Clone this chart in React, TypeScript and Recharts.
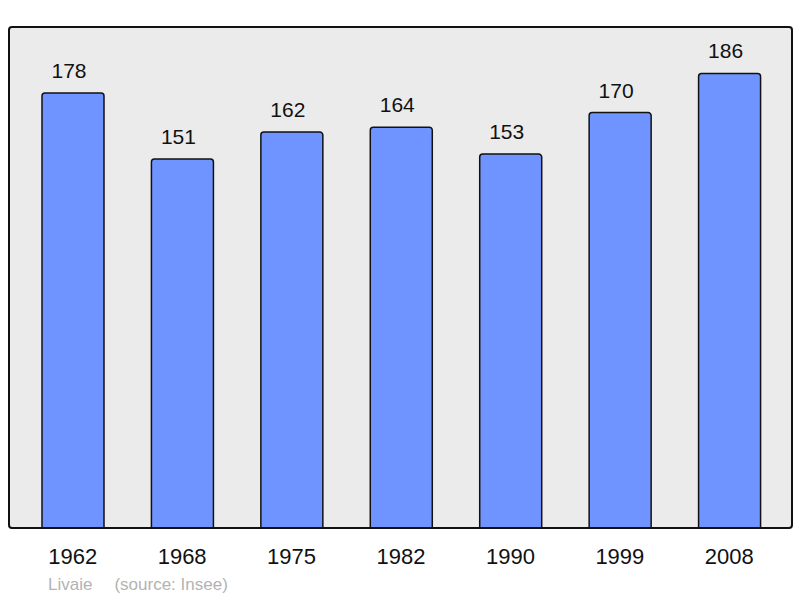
import { Bar, BarChart, LabelList, XAxis, YAxis } from "recharts"

const years = ["1962", "1968", "1975", "1982", "1990", "1999", "2008"]
const population = [178, 151, 162, 164, 153, 170, 186]

const data = years.map((year, i) => ({ year, population: population[i] }))

const font = "'Liberation Sans', Arial, sans-serif"

export default function App() {
  return (
    <div style={{ position: "absolute", left: 0, top: 0, width: 800, height: 598, background: "#fff" }}>
      <div
        style={{
          position: "absolute",
          left: 8,
          top: 26,
          width: 785,
          height: 503,
          background: "#ebebeb",
          borderRadius: 4,
        }}
      />
      <div style={{ position: "absolute", left: 0, top: 0 }}>
        <BarChart width={800} height={598} data={data} margin={{ top: 27, right: 8, bottom: 20, left: 9 }}>
          <XAxis
            dataKey="year"
            height={50}
            axisLine={false}
            tickLine={false}
            tickSize={0}
            tickMargin={20}
            padding={{ left: 9, right: 8 }}
            tick={{ fill: "#111", fontSize: 22, fontFamily: font }}
            interval={0}
          />
          <YAxis hide domain={[0, 205]} />
          <Bar
            dataKey="population"
            fill="#7094ff"
            stroke="#111"
            strokeWidth={1.5}
            barSize={62}
            radius={[3, 3, 0, 0]}
            isAnimationActive={false}
          >
            <LabelList
              dataKey="population"
              position="top"
              offset={15}
              dx={-4}
              style={{ fill: "#111", fontSize: 21, fontFamily: font }}
            />
          </Bar>
        </BarChart>
      </div>
      <div
        style={{
          position: "absolute",
          left: 8,
          top: 26,
          width: 785,
          height: 503,
          boxSizing: "border-box",
          border: "2px solid #111",
          borderRadius: 4,
          pointerEvents: "none",
        }}
      />
      <div
        style={{
          position: "absolute",
          left: 48,
          top: 576,
          fontSize: 17,
          lineHeight: "17px",
          fontFamily: font,
          color: "#b3b3b3",
          whiteSpace: "pre",
        }}
      >
        <span>Livaie</span>
        <span style={{ marginLeft: 22 }}>(source: Insee)</span>
      </div>
    </div>
  )
}
